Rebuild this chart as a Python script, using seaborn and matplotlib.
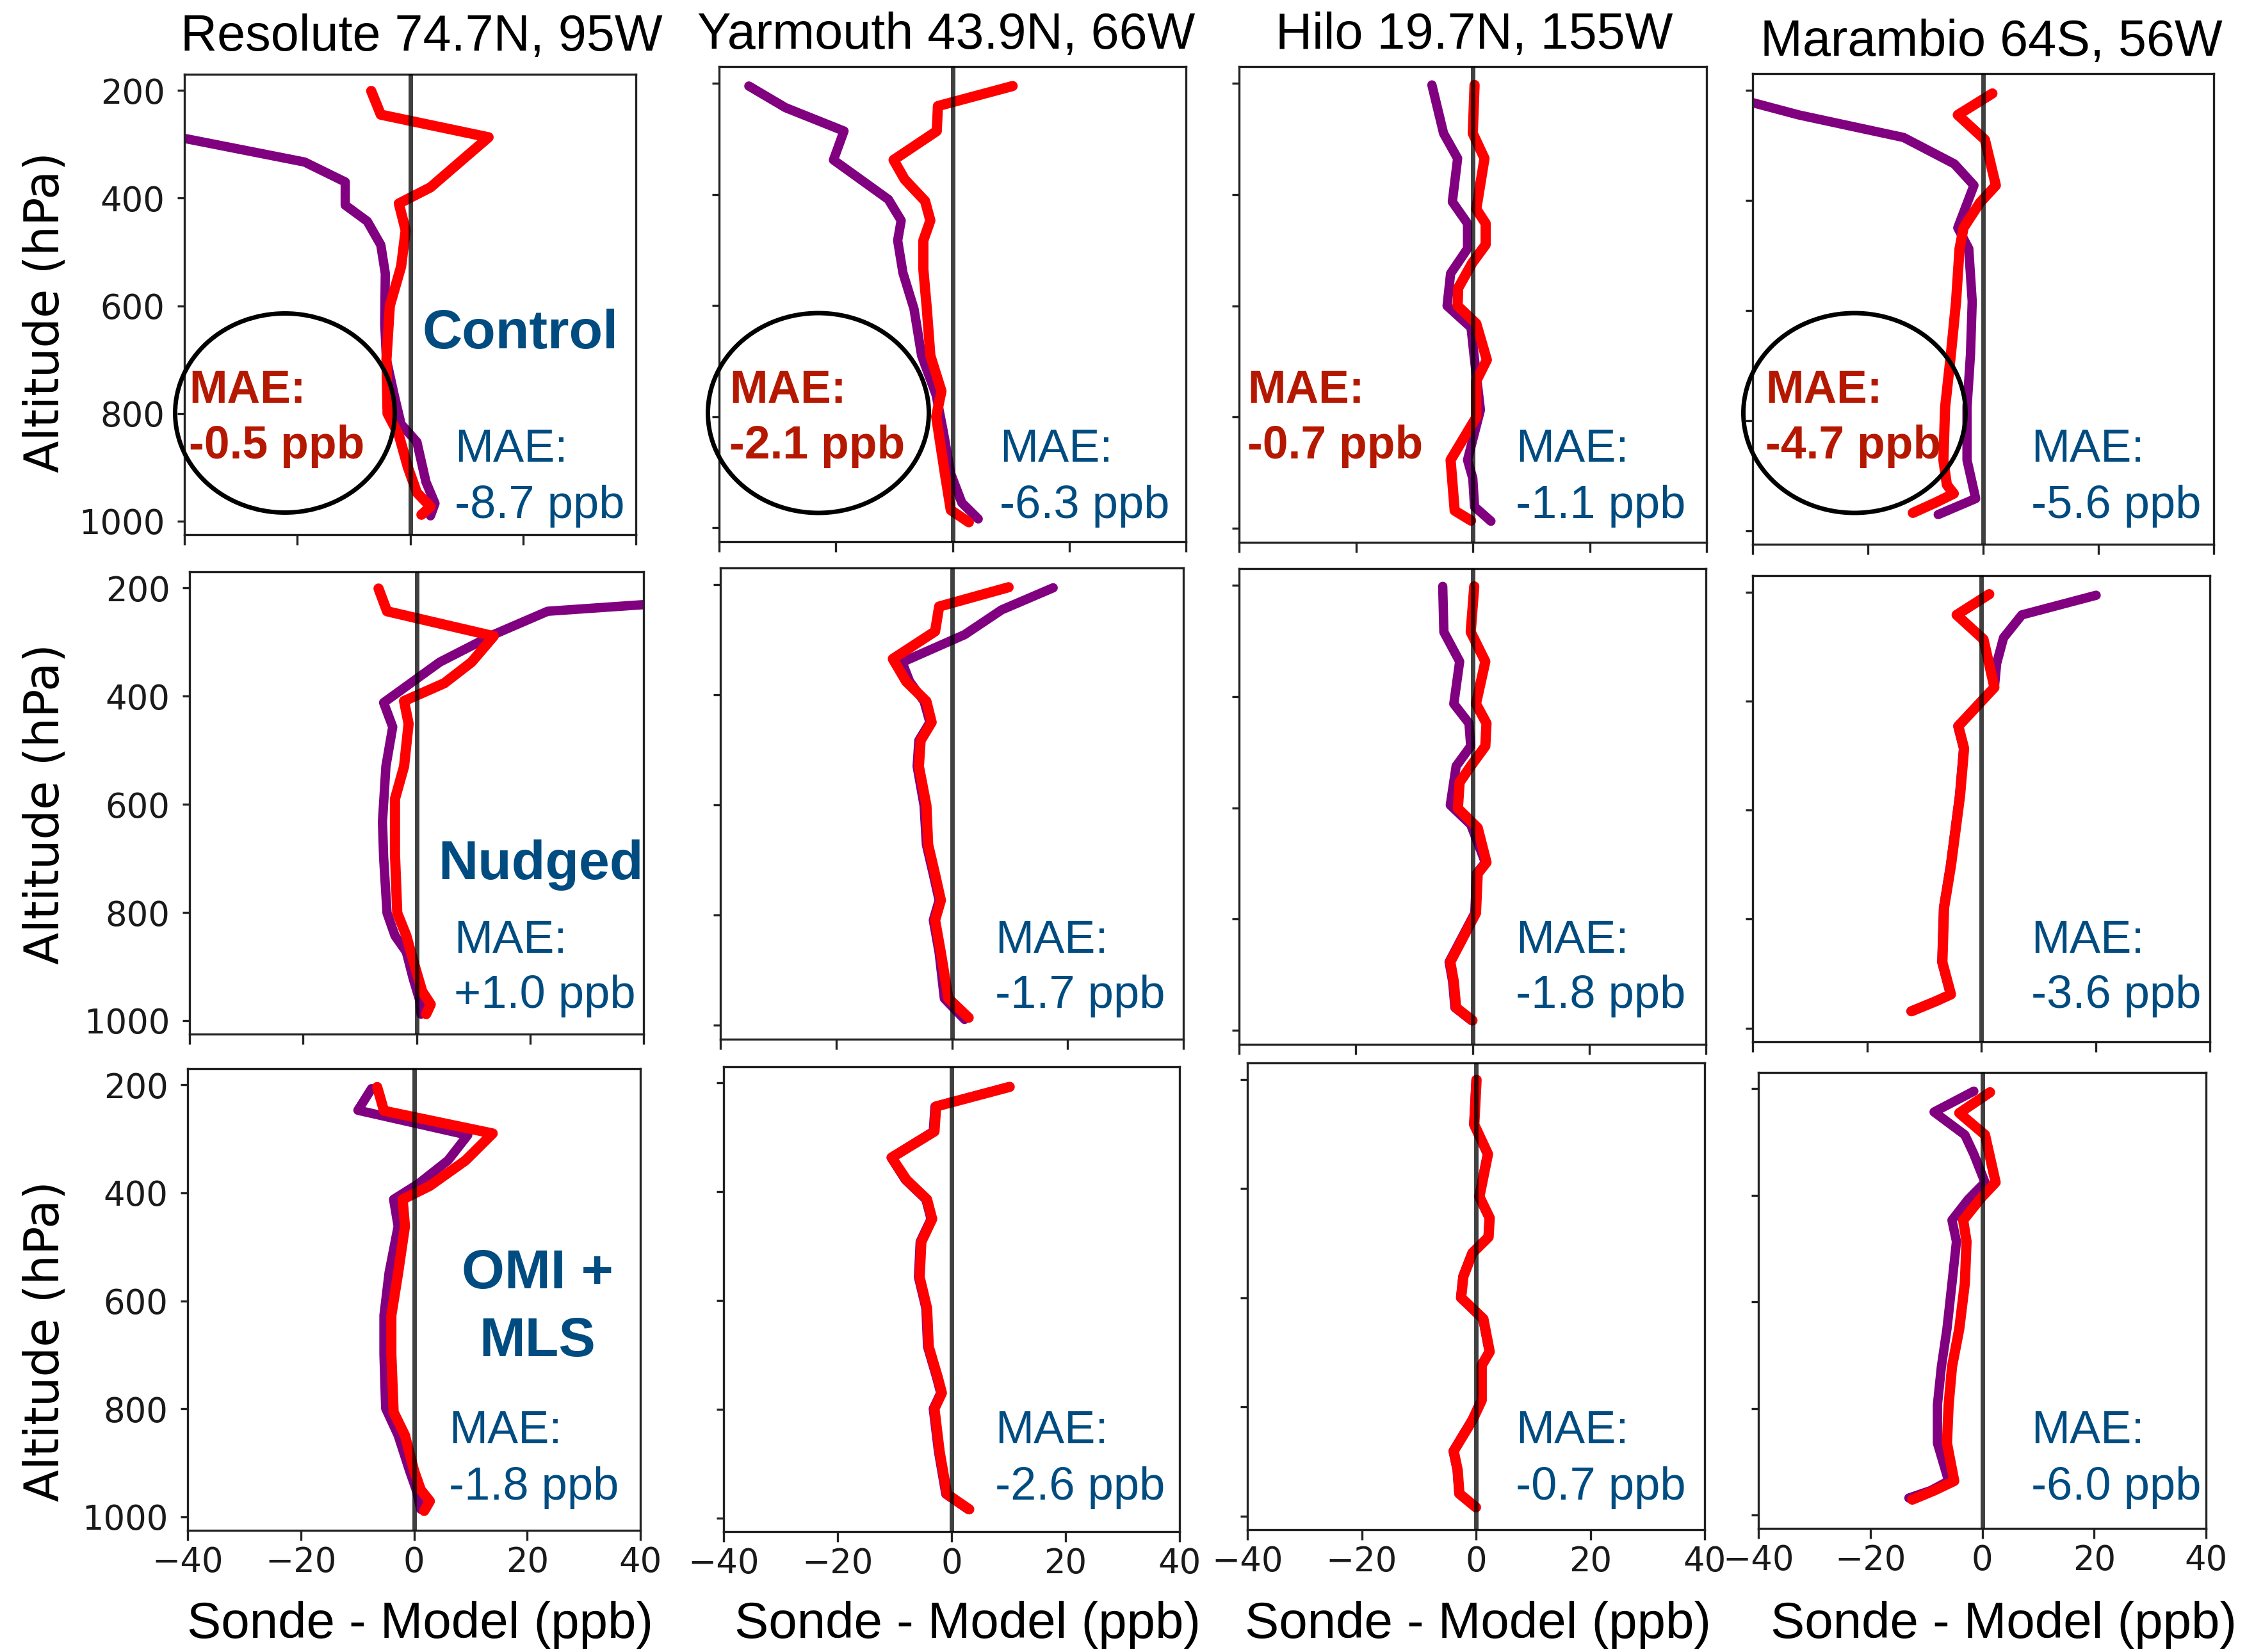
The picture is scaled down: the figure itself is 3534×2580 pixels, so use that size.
import matplotlib
matplotlib.use("Agg")
import matplotlib.pyplot as plt
from matplotlib.patches import Ellipse
import seaborn as sns

# ---------------------------------------------------------------------------
# Sonde minus model ozone (ppb) against pressure (hPa)
# Two model configurations per panel: purple and red profiles
# ---------------------------------------------------------------------------

# --- Control run ---
res_ctl_red_p = [201, 245, 287, 333, 380, 410, 460, 527, 600, 700, 800, 840, 900, 947, 973, 988]
res_ctl_red_x = [-6.9, -5.2, 13.9, 8.8, 3.6, -2.0, -0.8, -1.6, -3.6, -4.2, -4.0, -2.0, -0.4, 1.2, 3.6, 2.0]
res_ctl_pur_p = [201, 245, 287, 333, 370, 413, 443, 487, 540, 633, 700, 767, 820, 853, 927, 967, 990]
res_ctl_pur_x = [-62, -50, -41, -18.7, -11.5, -11.5, -7.6, -5.2, -4.4, -4.5, -4.2, -2.8, -1.6, 1.2, 2.8, 4.4, 3.6]

yar_ctl_red_p = [205, 241, 286, 338, 373, 412, 447, 483, 535, 606, 690, 754, 800, 903, 968, 990]
yar_ctl_red_x = [10.3, -2.5, -2.7, -10.1, -8.2, -4.7, -3.8, -5.0, -5.0, -4.4, -3.8, -1.9, -2.8, -1.3, -0.3, 2.8]
yar_ctl_pur_p = [205, 244, 286, 338, 409, 447, 483, 541, 606, 690, 761, 826, 903, 955, 984]
yar_ctl_pur_x = [-34.9, -28.6, -18.6, -20.4, -11.0, -8.8, -9.4, -8.5, -6.6, -5.3, -2.8, -1.6, -0.3, 1.6, 4.4]

hil_ctl_red_p = [203, 290, 335, 426, 452, 490, 523, 568, 600, 632, 697, 735, 800, 877, 916, 968, 986]
hil_ctl_red_x = [0.3, 0.0, 2.0, 0.6, 2.2, 2.2, -0.1, -2.5, -2.6, 0.6, 2.4, 0.6, 0.6, -3.8, -3.5, -3.1, -0.3]
hil_ctl_pur_p = [203, 290, 335, 413, 452, 497, 542, 600, 639, 697, 787, 877, 910, 961, 987]
hil_ctl_pur_x = [-7.0, -5.0, -2.6, -3.5, -0.9, -0.9, -3.8, -4.4, -0.3, 0.3, 1.3, -0.9, 0.0, 0.3, 3.1]

mar_ctl_red_p = [206, 245, 290, 373, 405, 450, 488, 584, 680, 776, 872, 917, 933, 949, 968]
mar_ctl_red_x = [1.6, -4.4, 0.3, 2.2, -0.6, -3.4, -4.1, -4.7, -5.6, -6.6, -6.9, -6.3, -5.1, -8.2, -12.2]
mar_ctl_pur_p = [206, 245, 286, 334, 373, 450, 488, 584, 680, 776, 872, 942, 971]
mar_ctl_pur_x = [-46, -32, -13.8, -5.0, -1.6, -4.4, -2.5, -1.9, -2.2, -2.8, -2.8, -1.3, -7.8]

# --- Nudged run ---
res_nud_red_p = [201, 243, 289, 337, 376, 409, 451, 530, 590, 692, 801, 843, 903, 946, 970, 988]
res_nud_red_x = [-6.7, -5.2, 13.6, 9.7, 4.9, -2.2, -1.4, -2.2, -3.8, -3.8, -3.4, -1.8, -0.2, 1.0, 2.5, 1.7]
res_nud_pur_p = [201, 243, 286, 337, 412, 457, 530, 632, 698, 801, 843, 873, 922, 964, 988]
res_nud_pur_x = [81, 23.1, 13.6, 4.1, -5.8, -4.2, -5.4, -6.0, -5.8, -5.2, -3.8, -1.8, -0.6, 0.6, 0.8]

yar_nud_red_p = [205, 240, 285, 335, 376, 412, 450, 483, 530, 601, 672, 726, 773, 809, 868, 951, 986]
yar_nud_red_x = [9.8, -2.2, -2.9, -10.2, -7.9, -4.4, -3.5, -5.4, -5.7, -4.4, -4.1, -2.9, -1.9, -2.9, -1.9, -0.6, 2.9]
yar_nud_pur_p = [206, 246, 291, 341, 376, 412, 450, 483, 530, 601, 672, 726, 773, 809, 868, 951, 989]
yar_nud_pur_x = [17.5, 8.6, 2.2, -8.6, -7.3, -4.8, -3.8, -5.7, -6.0, -4.8, -4.4, -3.2, -2.2, -3.2, -2.2, -1.3, 2.2]

hil_nud_red_p = [202, 284, 337, 413, 448, 489, 525, 554, 601, 636, 698, 718, 789, 877, 912, 959, 982]
hil_nud_red_x = [0.3, -0.3, 2.2, 0.6, 2.4, 2.2, -0.3, -2.2, -2.5, 0.9, 2.4, 0.9, 0.6, -3.8, -3.2, -2.8, 0.0]
hil_nud_pur_p = [202, 284, 337, 413, 448, 489, 525, 595, 630, 698, 718, 789, 877, 912, 959, 982]
hil_nud_pur_x = [-5.1, -4.9, -2.2, -3.2, -0.6, -0.3, -2.8, -3.8, -0.3, 2.2, 0.7, 0.4, -4.0, -3.4, -3.0, -0.2]

mar_nud_red_p = [204, 242, 287, 375, 446, 487, 573, 702, 779, 879, 938, 950, 969]
mar_nud_red_x = [1.4, -4.3, 0.4, 2.3, -4.0, -3.0, -3.7, -5.3, -6.5, -6.8, -5.3, -7.8, -12.2]
mar_nud_pur_p = [206, 242, 284, 331, 375, 446, 487, 573, 702, 779, 879, 938, 950, 969]
mar_nud_pur_x = [20.1, 7.1, 3.9, 2.7, 2.3, -4.1, -3.1, -3.8, -5.4, -6.6, -6.9, -5.4, -7.9, -12.3]

# --- OMI + MLS assimilation ---
res_omi_red_p = [204, 248, 290, 340, 387, 412, 462, 548, 627, 699, 806, 849, 914, 950, 971, 989]
res_omi_red_x = [-6.5, -5.3, 13.9, 9.1, 2.8, -2.0, -1.6, -2.8, -4.0, -4.0, -3.6, -1.6, 0.0, 1.2, 2.8, 1.8]
res_omi_pur_p = [207, 247, 293, 340, 383, 412, 462, 548, 627, 699, 799, 849, 914, 950, 986]
res_omi_pur_x = [-7.5, -9.9, 9.5, 6.0, 0.8, -3.6, -2.8, -4.4, -5.3, -5.3, -5.0, -2.8, -0.8, 0.4, 1.2]

yar_omi_red_p = [207, 243, 289, 337, 378, 414, 450, 492, 557, 614, 685, 742, 770, 799, 877, 956, 984]
yar_omi_red_x = [10.2, -2.7, -3.0, -10.5, -7.9, -4.3, -3.4, -5.3, -5.6, -4.3, -4.0, -2.4, -1.7, -3.0, -2.1, -0.8, 3.1]
yar_omi_pur_p = [207, 243, 289, 337, 378, 414, 450, 492, 557, 614, 685, 742, 770, 799, 877, 956, 984]
yar_omi_pur_x = [10.0, -2.9, -3.2, -10.6, -8.1, -4.5, -3.6, -5.5, -5.8, -4.5, -4.2, -2.6, -1.9, -3.2, -2.3, -1.0, 2.9]

hil_omi_red_p = [201, 283, 337, 415, 454, 489, 518, 561, 600, 639, 699, 724, 788, 824, 881, 916, 959, 984]
hil_omi_red_x = [0.1, -0.3, 2.1, 0.6, 2.4, 2.2, -0.6, -2.2, -2.6, 1.3, 2.4, 1.0, 1.0, -0.6, -3.9, -3.2, -2.9, 0.0]
hil_omi_pur_p = [201, 283, 337, 415, 454, 489, 518, 561, 600, 639, 699, 724, 788, 824, 881, 916, 959, 984]
hil_omi_pur_x = [0.0, -0.4, 2.0, 0.5, 2.3, 2.1, -0.7, -2.3, -2.7, 1.2, 2.3, 0.9, 0.9, -0.7, -4.0, -3.3, -3.0, -0.1]

mar_omi_red_p = [207, 246, 287, 376, 405, 447, 487, 565, 651, 722, 793, 865, 936, 954, 971]
mar_omi_red_x = [1.4, -4.1, 0.5, 2.4, -0.2, -3.4, -2.8, -3.1, -4.1, -5.4, -6.0, -6.3, -5.0, -8.6, -12.5]
mar_omi_pur_p = [205, 244, 287, 323, 376, 408, 447, 487, 565, 651, 722, 793, 865, 936, 954, 968]
mar_omi_pur_x = [-1.5, -8.6, -3.1, -1.5, 0.5, -2.5, -5.4, -4.6, -5.4, -6.3, -7.3, -8.0, -8.0, -6.0, -9.2, -13.1]

# Station titles, run names and mean absolute error annotations
stations = ["Resolute 74.7N, 95W", "Yarmouth 43.9N, 66W", "Hilo 19.7N, 155W", "Marambio 64S, 56W"]
runs = ["Control", "Nudged", "OMI +\nMLS"]
mae_red_control = [-0.5, -2.1, -0.7, -4.7]
mae_control = [-8.7, -6.3, -1.1, -5.6]
mae_nudged = [1.0, -1.7, -1.8, -3.6]
mae_omi = [-1.8, -2.6, -0.7, -6.0]

x_ticks = [-40, -20, 0, 20, 40]
y_ticks = [200, 400, 600, 800, 1000]

# ---------------------------------------------------------------------------
profiles = [
    [(res_ctl_pur_x, res_ctl_pur_p, res_ctl_red_x, res_ctl_red_p),
     (yar_ctl_pur_x, yar_ctl_pur_p, yar_ctl_red_x, yar_ctl_red_p),
     (hil_ctl_pur_x, hil_ctl_pur_p, hil_ctl_red_x, hil_ctl_red_p),
     (mar_ctl_pur_x, mar_ctl_pur_p, mar_ctl_red_x, mar_ctl_red_p)],
    [(res_nud_pur_x, res_nud_pur_p, res_nud_red_x, res_nud_red_p),
     (yar_nud_pur_x, yar_nud_pur_p, yar_nud_red_x, yar_nud_red_p),
     (hil_nud_pur_x, hil_nud_pur_p, hil_nud_red_x, hil_nud_red_p),
     (mar_nud_pur_x, mar_nud_pur_p, mar_nud_red_x, mar_nud_red_p)],
    [(res_omi_pur_x, res_omi_pur_p, res_omi_red_x, res_omi_red_p),
     (yar_omi_pur_x, yar_omi_pur_p, yar_omi_red_x, yar_omi_red_p),
     (hil_omi_pur_x, hil_omi_pur_p, hil_omi_red_x, hil_omi_red_p),
     (mar_omi_pur_x, mar_omi_pur_p, mar_omi_red_x, mar_omi_red_p)],
]
mae_rows = [mae_control, mae_nudged, mae_omi]

# ---------------------------------------------------------------------------
sns.set_theme(style="ticks")
plt.rcParams["font.family"] = ["DejaVu Sans"]

W, H = 3534, 2580
fig = plt.figure(figsize=(W / 100, H / 100), dpi=100)
fig.patch.set_facecolor("white")


def fx(px):
    return px / W


def fy(py):
    return 1 - py / H


# panel boxes in pixels: left, top, right, bottom
boxes = [
    [(288, 116, 993, 835), (1123, 104, 1852, 846), (1935, 104, 2665, 847), (2737, 115, 3457, 850)],
    [(296, 893, 1005, 1615), (1125, 887, 1848, 1623), (1935, 888, 2664, 1631), (2737, 899, 3451, 1627)],
    [(293, 1669, 1000, 2390), (1130, 1666, 1842, 2392), (1948, 1660, 2662, 2389), (2746, 1675, 3445, 2387)],
]

PURPLE = "#800080"
RED = "#FF0000"
BLUE_TXT = "#004C80"
RED_TXT = "#B51800"
SANS = "Liberation Sans"

for r in range(3):
    for c in range(4):
        l, t, rr, b = boxes[r][c]
        ax = fig.add_axes([fx(l), fy(b), (rr - l) / W, (b - t) / H])
        px, pp, rx, rp = profiles[r][c]
        sns.lineplot(x=px, y=pp, sort=False, estimator=None, color=PURPLE,
                     linewidth=10.5, ax=ax, zorder=2)
        sns.lineplot(x=rx, y=rp, sort=False, estimator=None, color=RED,
                     linewidth=11.5, ax=ax, zorder=3)
        ax.axvline(0, color="black", alpha=0.75, linewidth=5, zorder=5)
        ax.set_xlim(-40, 40)
        ax.set_ylim(1025, 170)
        ax.set_xticks(x_ticks)
        ax.set_yticks(y_ticks)
        ax.set_xlabel("")
        ax.set_ylabel("")
        ax.set_facecolor("white")
        for s in ax.spines.values():
            s.set_linewidth(2.4)
            s.set_color("#222222")
        ax.tick_params(axis="x", length=11.5, width=2.4, pad=6, labelsize=38,
                       color="#222222", labelcolor="#1a1a1a",
                       labelbottom=(r == 2))
        ax.tick_params(axis="y", length=8, width=2.4, pad=14, labelsize=38,
                       color="#222222", labelcolor="#1a1a1a",
                       labelleft=(c == 0))

# station titles
title_pos = [(658, 79), (1478, 76), (2302, 76), (3110, 87)]
for name, (cx, by) in zip(stations, title_pos):
    fig.text(fx(cx), fy(by), name, ha="center", va="baseline",
             fontsize=57, family=SANS, color="black")

# x-axis labels
xlab_pos = [656, 1511, 2308, 3129]
for cx in xlab_pos:
    fig.text(fx(cx), fy(2558), "Sonde - Model (ppb)", ha="center", va="baseline",
             fontsize=57.5, family=SANS, color="black")

# y-axis labels
for cy in [488, 1256, 2095]:
    fig.text(fx(72), fy(cy), "Altitude (hPa)", rotation=90, ha="center",
             va="center", fontsize=53, color="black")

# run names
fig.text(fx(659), fy(544), runs[0], ha="left", va="baseline", fontsize=62,
         fontweight="bold", family=SANS, color=BLUE_TXT)
fig.text(fx(684), fy(1373), runs[1], ha="left", va="baseline", fontsize=62,
         fontweight="bold", family=SANS, color=BLUE_TXT)
omi_lines = runs[2].split("\n")
fig.text(fx(839), fy(2012), omi_lines[0], ha="center", va="baseline", fontsize=62,
         fontweight="bold", family=SANS, color=BLUE_TXT)
fig.text(fx(839), fy(2118), omi_lines[1], ha="center", va="baseline", fontsize=62,
         fontweight="bold", family=SANS, color=BLUE_TXT)

# blue MAE annotations per row
blue_x = [[710, 1561, 2367, 3172], [709, 1554, 2367, 3172], [701, 1554, 2367, 3172]]
blue_base = [(721, 809), (1488, 1574), (2254, 2342)]
for r in range(3):
    b1, b2 = blue_base[r]
    for c in range(4):
        val = mae_rows[r][c]
        fig.text(fx(blue_x[r][c]), fy(b1), "MAE:", ha="left", va="baseline",
                 fontsize=52, family=SANS, color=BLUE_TXT)
        fig.text(fx(blue_x[r][c]), fy(b2), f"{val:+.1f} ppb" if val > 0 else f"{val:.1f} ppb",
                 ha="left", va="baseline", fontsize=52, family=SANS, color=BLUE_TXT)

# red MAE annotations in the top row
red_x = [295, 1139, 1948, 2757]
for c in range(4):
    fig.text(fx(red_x[c]), fy(629), "MAE:", ha="left", va="baseline", fontsize=51.5,
             fontweight="bold", family=SANS, color=RED_TXT)
    fig.text(fx(red_x[c]), fy(716), f"{mae_red_control[c]:.1f} ppb", ha="left",
             va="baseline", fontsize=51.5, fontweight="bold", family=SANS, color=RED_TXT)

# circled highlights
for cx, cy, w, h in [(445, 645, 343, 311), (1278, 645, 345, 312), (2896, 645, 347, 312)]:
    fig.add_artist(Ellipse((fx(cx), fy(cy)), width=w / W, height=h / H,
                           transform=fig.transFigure, fill=False,
                           edgecolor="black", linewidth=5, zorder=10))

fig.savefig("out.png", dpi=100, facecolor="white")
